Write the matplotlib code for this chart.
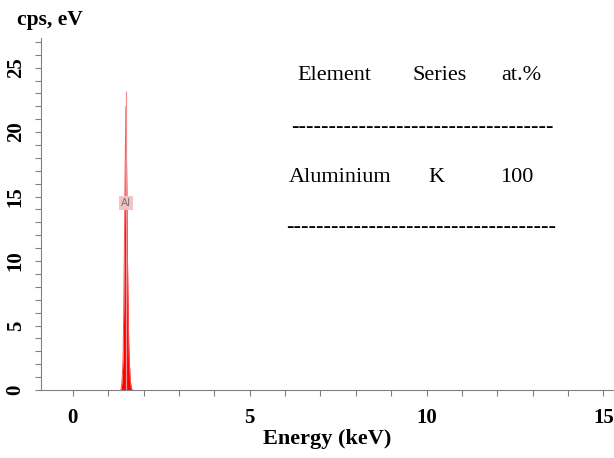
import numpy as np
import matplotlib.pyplot as plt

# EDS spectrum, only the Al K peak region carries counts
energy = [1.36, 1.38, 1.40, 1.42, 1.44, 1.46, 1.48, 1.50, 1.52, 1.54, 1.56, 1.58, 1.60, 1.62, 1.64, 1.66, 1.68]
counts = [0.0, 0.4, 1.2, 2.5, 6.5, 12.0, 17.5, 22.0, 17.0, 11.0, 7.0, 3.5, 2.0, 0.9, 0.4, 0.1, 0.0]
peak_e = 1.51
peak_top = 23.2

table_head = ['Element', 'Series', 'at.%']
table_row = ['Aluminium', 'K', '100']

plt.rcParams['font.family'] = ['Liberation Serif', 'DejaVu Serif']

fig = plt.figure(figsize=(6.14, 4.58), dpi=100)
ax = fig.add_axes([0.0668, 0.1485, 0.9332, 0.7686])

ax.fill_between(energy, counts, color='#ff0000', linewidth=0)
ax.plot(energy, counts, color='#ff5050', lw=0.7)
ax.vlines(peak_e, 0, peak_top, color='#f09090', lw=0.9)

ax.text(peak_e, 14.5, 'Al', ha='center', va='center', fontsize=7.5, color='#707070',
        family='DejaVu Sans',
        bbox=dict(boxstyle='square,pad=0.2', fc='#f4c4c4', ec='none'))

ax.set_xlim(-0.9, 15.3)
ax.set_ylim(0, 27.3)
ax.set_xticks([0, 5, 10, 15])
ax.set_yticks([0, 5, 10, 15, 20, 25])
ax.set_xticks(np.arange(0, 16, 1), minor=True)
ax.set_yticks(np.arange(0, 28, 1), minor=True)
ax.tick_params(which='both', direction='out', length=4, color='#808080', width=0.8)
ax.tick_params(axis='x', labelsize=15, pad=9)
ax.tick_params(axis='y', labelsize=15, pad=7)
for lab in ax.get_xticklabels() + ax.get_yticklabels():
    lab.set_fontweight('bold')
for lab in ax.get_yticklabels():
    lab.set_rotation(90)
    lab.set_va('center')

for s in ['top', 'right']:
    ax.spines[s].set_visible(False)
for s in ['left', 'bottom']:
    ax.spines[s].set_color('#808080')
    ax.spines[s].set_linewidth(0.8)

ax.set_xlabel('Energy (keV)', fontsize=16, fontweight='bold', labelpad=1)
fig.text(17 / 614, 1 - 20 / 458, 'cps, eV', fontsize=15.5, fontweight='bold',
         ha='left', va='center')

# summary table drawn as text
head_x = [297, 412, 501]
row_x = [289, 428, 500]
for t, x in zip(table_head, head_x):
    fig.text(x / 614, 1 - 76 / 458, t, fontsize=16, ha='left', va='center')
for t, x in zip(table_row, row_x):
    fig.text(x / 614, 1 - 177 / 458, t, fontsize=16, ha='left', va='center')
fig.text(291 / 614, 1 - 127 / 458, '-' * 35, fontsize=16, fontweight='bold',
         ha='left', va='center')
fig.text(286 / 614, 1 - 227 / 458, '-' * 36, fontsize=16, fontweight='bold',
         ha='left', va='center')

fig.savefig('out.png', dpi=100)
